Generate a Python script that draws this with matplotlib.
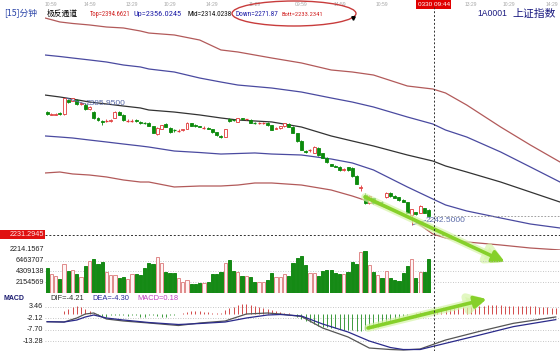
import matplotlib
matplotlib.use("Agg")
import matplotlib.pyplot as plt
from matplotlib import font_manager, transforms
from matplotlib.font_manager import FontProperties
from matplotlib.patches import Rectangle, Ellipse
from matplotlib.lines import Line2D

CJK = 'Noto Sans CJK SC'
plt.rcParams['font.family'] = ['Liberation Sans', CJK, 'DejaVu Sans']


def narrow_font():
    prefs = ['Liberation Sans Narrow', 'DejaVu Sans Condensed', 'Roboto Condensed',
             'Open Sans Condensed']
    fl = font_manager.fontManager.ttflist
    for p in prefs:
        for f in fl:
            if f.name == p and f.weight in (400, 'normal', 'regular') and f.style == 'normal':
                return FontProperties(fname=f.fname)
    for f in fl:
        if f.stretch in ('condensed', 'semi-condensed', 'extra-condensed') and f.style == 'normal' \
                and f.weight in (400, 'normal', 'regular'):
            return FontProperties(fname=f.fname)
    return FontProperties(family='Liberation Sans')


NARROW_FP = narrow_font()

# ---------------- data ----------------
opens = [2369.8, 2367.0, 2367.0, 2368.7, 2367.6, 2383.4, 2382.8, 2383.4, 2378.9, 2377.7,
         2373.2, 2369.8, 2363.1, 2360.2, 2359.7, 2359.7, 2363.6, 2369.8, 2366.5, 2359.7,
         2359.7, 2360.8, 2359.1, 2358.0, 2357.4, 2353.5, 2345.0, 2351.2, 2356.3, 2351.8,
         2349.5, 2348.4, 2349.0, 2351.2, 2356.9, 2355.7, 2354.0, 2351.8, 2351.8, 2350.7,
         2347.3, 2343.3, 2341.6, 2361.9, 2360.8, 2358.6, 2363.1, 2361.4, 2360.8, 2357.4,
         2356.9, 2356.9, 2357.4, 2355.2, 2350.7, 2351.8, 2353.5, 2356.3, 2352.9, 2346.1,
         2337.1, 2325.8, 2326.4, 2323.6, 2329.2, 2323.6, 2317.9, 2310.6, 2309.4, 2308.3,
         2304.4, 2307.8, 2306.6, 2297.6, 2284.0, 2276.1, 2267.1, 2272.8, 2267.1, 2268.8,
         2273.9, 2278.4, 2275.0, 2273.9, 2270.5, 2268.2, 2253.6, 2257.0, 2255.8, 2261.5,
         2259.2]
closes = [2367.6, 2368.1, 2368.1, 2367.6, 2385.1, 2381.1, 2385.7, 2378.9, 2380.0, 2373.2,
          2375.5, 2363.1, 2360.8, 2359.1, 2360.2, 2360.8, 2369.8, 2366.5, 2360.8, 2360.2,
          2360.2, 2359.7, 2356.9, 2357.4, 2354.6, 2346.1, 2351.8, 2355.2, 2352.9, 2347.3,
          2349.0, 2349.0, 2350.1, 2357.4, 2354.6, 2353.5, 2352.9, 2352.4, 2350.7, 2347.3,
          2343.9, 2341.1, 2350.7, 2359.7, 2360.2, 2363.1, 2361.4, 2361.9, 2357.4, 2356.9,
          2357.4, 2357.4, 2355.2, 2349.5, 2351.8, 2353.5, 2356.9, 2352.9, 2346.1, 2337.1,
          2327.0, 2324.7, 2327.0, 2330.3, 2321.3, 2317.9, 2313.4, 2309.4, 2308.3, 2304.4,
          2305.5, 2304.4, 2297.6, 2288.6, 2285.7, 2267.1, 2275.0, 2267.1, 2268.2, 2267.7,
          2278.4, 2275.0, 2272.8, 2270.5, 2268.2, 2255.8, 2260.3, 2254.7, 2263.7, 2255.8,
          2251.9]
highs = [2371.0, 2368.7, 2368.7, 2369.3, 2385.95, 2384.5, 2385.7, 2384.0, 2381.1, 2380.0,
         2376.6, 2371.0, 2364.2, 2360.8, 2361.4, 2361.9, 2371.0, 2371.0, 2367.6, 2361.4,
         2361.4, 2361.4, 2359.7, 2359.1, 2358.6, 2354.0, 2352.9, 2355.7, 2356.9, 2352.4,
         2350.7, 2350.1, 2350.7, 2358.0, 2357.4, 2356.3, 2354.6, 2353.5, 2352.4, 2351.2,
         2347.8, 2343.9, 2351.2, 2363.1, 2361.4, 2363.6, 2363.6, 2362.5, 2361.4, 2358.0,
         2358.0, 2358.0, 2358.0, 2355.7, 2352.4, 2354.0, 2357.4, 2356.9, 2353.5, 2346.7,
         2337.7, 2326.4, 2328.1, 2330.9, 2329.8, 2324.1, 2318.5, 2311.1, 2310.0, 2308.9,
         2306.1, 2308.3, 2307.2, 2298.2, 2287.4, 2278.4, 2275.6, 2273.3, 2269.4, 2269.9,
         2279.0, 2279.0, 2275.6, 2274.4, 2271.1, 2268.8, 2260.9, 2257.5, 2264.3, 2262.0,
         2259.8]
lows = [2366.5, 2366.5, 2366.5, 2367.0, 2367.0, 2380.0, 2382.3, 2378.3, 2377.7, 2372.1,
        2372.1, 2362.5, 2359.7, 2355.2, 2358.6, 2358.6, 2363.1, 2365.9, 2360.2, 2358.6,
        2358.6, 2359.1, 2356.3, 2356.3, 2354.0, 2345.6, 2344.4, 2350.7, 2352.4, 2346.7,
        2347.8, 2347.3, 2348.4, 2350.7, 2354.0, 2352.9, 2352.4, 2351.2, 2350.1, 2346.7,
        2343.3, 2340.5, 2341.1, 2359.1, 2359.7, 2358.0, 2360.8, 2360.8, 2356.9, 2356.3,
        2356.3, 2356.3, 2354.6, 2349.0, 2350.1, 2351.2, 2352.9, 2352.4, 2345.6, 2336.5,
        2326.4, 2324.1, 2324.7, 2323.0, 2320.7, 2317.4, 2312.8, 2308.9, 2307.8, 2303.8,
        2303.8, 2303.8, 2297.0, 2288.0, 2280.7, 2266.5, 2266.5, 2266.5, 2266.0, 2264.9,
        2273.3, 2274.4, 2272.2, 2269.9, 2267.7, 2255.3, 2242.5, 2254.1, 2255.3, 2255.3,
        2251.3]
volumes_m = [4.93, 3.73, 3.45, 2.79, 5.73, 4.39, 4.59, 3.73, 3.25, 5.45,
             6.38, 6.78, 5.85, 6.12, 4.25, 3.59, 3.59, 2.93, 3.19, 2.79,
             3.73, 3.73, 3.59, 4.93, 5.93, 5.73, 7.24, 5.93, 4.25, 3.93,
             4.05, 3.05, 2.25, 2.59, 1.74, 1.74, 2.05, 2.05, 2.13, 3.73,
             3.73, 4.25, 5.93, 6.58, 4.45, 4.25, 3.39, 3.39, 3.13, 2.25,
             2.25, 2.25, 2.59, 4.05, 3.25, 3.25, 3.79, 3.45, 5.93, 6.92,
             7.38, 5.59, 4.05, 3.93, 3.39, 4.39, 4.59, 4.59, 3.93, 3.79,
             3.73, 4.25, 6.12, 5.73, 8.24, 8.44, 5.59, 4.25, 3.59, 2.93,
             4.39, 3.05, 2.59, 2.45, 4.05, 5.39, 6.84, 3.05, 4.13, 4.13,
             6.84]

band_idx = [-0.5, 3, 6, 10, 14, 18, 22, 24, 30, 36, 41, 45, 49, 53, 60, 67, 72, 77, 85, 91,
            94, 99, 107, 114, 121]
band_top = [2476.0, 2471.5, 2469.8, 2468.1, 2465.8, 2464.7, 2461.3, 2459.0, 2456.8, 2451.1,
            2439.9, 2437.6, 2434.2, 2430.8, 2425.2, 2417.3, 2415.0, 2411.6, 2399.2, 2395.8,
            2391.3, 2377.7, 2352.9, 2332.6, 2313.4]
band_up = [2434.2, 2432.5, 2430.8, 2428.6, 2426.3, 2422.9, 2420.7, 2418.4, 2415.0, 2408.2,
           2403.7, 2400.3, 2398.6, 2396.9, 2392.4, 2385.7, 2381.1, 2375.5, 2364.2, 2356.3,
           2349.5, 2341.6, 2324.7, 2307.8, 2290.8]
band_mid = [2389.0, 2386.8, 2384.5, 2381.1, 2378.9, 2376.6, 2374.4, 2372.1, 2369.8, 2366.5,
            2363.1, 2360.8, 2359.7, 2358.6, 2352.9, 2342.8, 2337.1, 2331.5, 2321.3, 2314.5,
            2308.9, 2302.1, 2290.8, 2279.5, 2268.2]
band_down = [2342.8, 2341.6, 2340.5, 2338.2, 2336.0, 2333.7, 2331.5, 2330.3, 2325.8, 2324.1,
             2322.4, 2323.0, 2323.6, 2322.4, 2321.3, 2316.8, 2312.3, 2304.4, 2285.2, 2271.6,
             2264.9, 2258.1, 2250.2, 2243.4, 2238.9]
band_bott = [2301.0, 2302.1, 2299.9, 2298.7, 2296.5, 2293.1, 2290.8, 2290.8, 2285.2, 2286.3,
             2286.3, 2287.4, 2289.7, 2289.7, 2287.4, 2281.8, 2275.0, 2267.1, 2252.4, 2232.1,
             2227.6, 2223.1, 2219.7, 2216.3, 2214.1]

macd_idx = [0, 4, 7, 9, 11, 14, 18, 24, 31, 36, 42, 47, 52, 55, 60, 65, 71, 76, 81, 84,
            88, 94, 102, 110, 120]
dif = [-3.91, -4.06, -2.12, -0.18, 0.31, -2.60, -3.57, -4.54, -5.76, -4.54, -3.57, -0.18,
       0.31, -0.18, -1.39, -6.97, -11.33, -16.67, -17.40, -17.64, -17.15, -12.8, -8.6, -4.7, -1.6]
dea = [-3.91, -4.06, -3.09, -1.63, -0.66, -2.12, -3.09, -4.30, -5.27, -4.79, -4.06, -2.12,
       -0.66, -0.42, -1.15, -5.03, -8.91, -13.27, -16.43, -17.40, -17.40, -14.4, -10.4, -6.3, -2.9]
macd_hist = [0, 0, 0, 0, 1.5, 2.4, 3.4, 3.9, 3.4, 2.4, 1.5, 0.5,
             -0.5, -1.0, -1.5, -0.5, -0.8, -0.8, -0.8, -1.2, -0.5, -0.8, -1.5, -1.5, -0.8, -0.8,
             -1.0, -1.5, -1.5, -0.8, -0.5, -0.3,
             0.3, 0.8, 1.2, 1.3, 1.3, 1.0, 0.6, 0.3, 0.3, 0.5,
             1.9, 2.8, 3.4, 4.1, 4.6, 4.6, 4.2, 3.7, 3.2, 2.8, 2.4, 1.8, 1.3, 0.8, 0.4, 0.1, -0.3,
             -1.5, -2.6, -3.5, -4.2, -5.0, -5.8, -6.3, -6.6, -6.9, -7.2, -7.4, -7.7, -7.9, -8.1,
             -8.2, -8.2, -8.0, -7.6, -7.0, -6.3, -5.5, -4.7, -3.7, -2.8,
             -2.0, -1.2, -0.6, -0.2, 0.3, 0.6,
             0.9, 1.1, 1.4, 1.6, 1.9, 2.2, 2.5, 2.8, 3.0, 3.2, 3.4, 3.6, 3.8, 3.9, 3.9, 4.0,
             4.0, 4.0, 4.0, 3.9, 3.9, 3.9, 3.8, 3.8, 3.7, 3.6, 3.5, 3.3, 3.2, 3.0, 2.8, 2.7]

price_levels = [2231.2945, 2214.1567]
vol_levels = [6463707, 4309138, 2154569]
macd_levels = [3.46, -2.12, -7.70, -13.28]
time_pos = [1, 10, 20, 29, 39, 49, 60, 69, 79, 100, 109, 119]
time_labels = ["10:59", "14:59", "13:29", "10:29", "14:29", "11:29", "09:59", "14:59",
               "10:59", "13:29", "10:29", "14:29"]
header_items = ["Top=2394.6621", "Up=2356.0245", "Mid=2314.0238", "Down=2271.87", "Bott=2233.2341"]

# ---------------- layout ----------------
W, H = 560, 351
fig = plt.figure(figsize=(W / 100, H / 100), dpi=100)
fig.patch.set_facecolor('white')
renderer = fig.canvas.get_renderer()


def fx(px):
    return px / W


def fy(py):
    return 1 - py / H


def fit_text(t, target_px, max_size=6.5):
    """shrink a text so that it is at most target_px wide"""
    bb = t.get_window_extent(renderer=renderer)
    if bb.width > target_px:
        t.set_fontsize(min(max_size, t.get_fontsize() * target_px / bb.width))


X0, X1 = 45, 560
XLIM = (-0.5, 121.0)
ax = fig.add_axes([fx(X0), fy(250), (X1 - X0) / W, 240 / H])
axv = fig.add_axes([fx(X0), fy(293), (X1 - X0) / W, 43 / H])
axm = fig.add_axes([fx(X0), 0, (X1 - X0) / W, 48 / H])
for a in (ax, axv, axm):
    a.set_xlim(*XLIM)
    a.axis('off')
ax.set_ylim(2214.05, 2485.0)
axv.set_ylim(0, 8.58e6)
axm.set_ylim(-18.12, 5.16)

UP = '#e03838'
DN = '#0b8a0b'
dot_light = dict(color='#b4b4b4', lw=0.6, ls=(0, (1, 2)))

# grid / level lines
ax.axhline(price_levels[0], color='#303030', lw=0.7, ls=(0, (2, 2)), zorder=1)
ax.axhline(price_levels[1], **dot_light, zorder=1)
for v in vol_levels:
    axv.axhline(v, **dot_light, zorder=1)
for v in macd_levels:
    axm.axhline(v, **dot_light, zorder=1)

# bands
ax.plot(band_idx, band_top, color='#b25a5a', lw=0.9, zorder=2)
ax.plot(band_idx, band_up, color='#4a4aa0', lw=0.9, zorder=2)
ax.plot(band_idx, band_mid, color='#333333', lw=0.9, zorder=2)
ax.plot(band_idx, band_down, color='#4a4aa0', lw=0.9, zorder=2)
ax.plot(band_idx, band_bott, color='#b25a5a', lw=0.9, zorder=2)

# candles + volume
for i, (o, c, h, l) in enumerate(zip(opens, closes, highs, lows)):
    up = c >= o
    col = UP if up else DN
    ax.vlines(i, l, h, color=col, lw=0.6, zorder=3)
    bot, ht = min(o, c), abs(c - o)
    if ht < 0.9:
        ax.hlines((o + c) / 2, i - 0.35, i + 0.35, color=col, lw=0.9, zorder=4)
    else:
        ax.add_patch(Rectangle((i - 0.35, bot), 0.7, ht, facecolor='white' if up else col,
                               edgecolor=col, lw=0.6, zorder=4))
    vcol = '#e08a8a' if up else '#158a15'
    axv.add_patch(Rectangle((i - 0.38, 0), 0.76, volumes_m[i] * 1e6,
                            facecolor='#fff4f4' if up else vcol, edgecolor=vcol, lw=0.7, zorder=3))
axv.axhline(0, color='#a0a0a0', lw=0.6, zorder=2)

# high / low labels
hi_i = max(range(len(highs)), key=lambda k: highs[k])
lo_i = min(range(len(lows)), key=lambda k: lows[k])
ax.plot([hi_i + 0.6, hi_i + 5.0], [highs[hi_i] - 0.5, highs[hi_i] - 7.0], color='#5a6aa8', lw=0.6, zorder=5)
ax.text(hi_i + 5.1, highs[hi_i] - 7.0, f"{highs[hi_i]:.4f}", color='#5a6aa8', fontsize=6,
        va='center', ha='left', zorder=6)
ax.plot([lo_i + 0.3, lo_i + 3.3], [lows[lo_i], lows[lo_i] + 5.0], color='#5a6aa8', lw=0.6, zorder=5)
ax.text(lo_i + 3.4, lows[lo_i] + 5.2, f"{lows[lo_i]:.4f}", color='#5a6aa8', fontsize=6,
        va='center', ha='left', zorder=6)

# MACD
for i, v in enumerate(macd_hist):
    if v == 0:
        continue
    axm.vlines(i, 0, v, color='#d24a4a' if v > 0 else '#3c9a3c', lw=0.7, zorder=2)
axm.plot(macd_idx, dif, color='#555555', lw=0.9, zorder=3)
axm.plot(macd_idx, dea, color='#2a2a8a', lw=0.9, zorder=3)

# crosshair
xc = len(closes) + 0.2
vline = Line2D([xc, xc], [0, fy(7)], transform=transforms.blended_transform_factory(ax.transData, fig.transFigure),
               color='#303030', lw=0.7, ls=(0, (2, 2)), zorder=10)
fig.add_artist(vline)
ax.hlines(closes[-1], xc, XLIM[1], color='#909090', lw=0.6, ls=(0, (2, 2)), zorder=2)

# left labels
lab = dict(fontsize=5.2, ha='right', va='center', color='#202020')
tp = transforms.blended_transform_factory(fig.transFigure, ax.transData)
ax.add_patch(Rectangle((0, price_levels[0] - 4.8), fx(45), 9.6, transform=tp, facecolor='#e01010',
                       edgecolor='none', clip_on=False, zorder=8))
ax.text(fx(44), price_levels[0], f"{price_levels[0]:.4f}", transform=tp, clip_on=False,
        **{**lab, 'color': '#ffe6e6'}, zorder=9)
ax.text(fx(44), price_levels[1], f"{price_levels[1]:.4f}", transform=tp, **lab)
tv = transforms.blended_transform_factory(fig.transFigure, axv.transData)
for v in vol_levels:
    axv.text(fx(44), v, f"{v}", transform=tv, **lab)
tm = transforms.blended_transform_factory(fig.transFigure, axm.transData)
for v in macd_levels:
    axm.text(fx(43), v, f"{v:.2f}", transform=tm, **lab)

# time labels on top
tt = transforms.blended_transform_factory(ax.transData, fig.transFigure)
for p, s in zip(time_pos, time_labels):
    ax.text(p, fy(4), s, transform=tt, fontsize=3.6, color='#a8a8a8', ha='center', va='center',
            clip_on=False)
ax.text(xc, fy(4.5), "0330 09:44", transform=tt, fontsize=4.6, color='white', ha='center',
        va='center', clip_on=False, zorder=12,
        bbox=dict(boxstyle='square,pad=0.25', fc='#e00000', ec='none'))

# header texts
fig.text(fx(4), fy(14), "[15]分钟", fontsize=6.3, color='#2a44a8', va='center', family=[CJK])
fig.text(fx(47), fy(14), "极反通道", fontsize=5.6, color='black', va='center', family=[CJK])
hdr_x = [90, 134, 187, 235, 281]
hdr_c = ['#d02020', '#2020a8', '#101010', '#2020a8', '#d02020']
for k, (px, s, c) in enumerate(zip(hdr_x, header_items, hdr_c)):
    t = fig.text(fx(px), fy(14), s, fontproperties=NARROW_FP, fontsize=6.0, color=c, va='center')
    nxt = hdr_x[k + 1] if k + 1 < len(hdr_x) else 325
    fit_text(t, nxt - px - 3)
fig.text(fx(477), fy(14), "1A0001", fontsize=6.2, color='#1a1a80', va='center')
fig.text(fx(512), fy(14), "上证指数", fontsize=7.8, color='#1a1a80', va='center', family=[CJK])

# MACD header
fig.text(fx(3), fy(298), "MACD", fontsize=5.0, color='#1a1a70', va='center', weight='bold')
fig.text(fx(50), fy(298), "DIF=-4.21", fontsize=5.4, color='#303030', va='center')
fig.text(fx(92), fy(298), "DEA=-4.30", fontsize=5.4, color='#2a2a9a', va='center')
fig.text(fx(137), fy(298), "MACD=0.18", fontsize=5.4, color='#c040c0', va='center')

# red ellipse annotation
fig.add_artist(Ellipse((fx(294), fy(13.5)), 124 / W, 25 / H, transform=fig.transFigure,
                       fill=False, edgecolor='#c83c3c', lw=1.0, zorder=11))
fig.add_artist(Line2D([fx(353)], [fy(18)], marker='v', ms=2.5, color='black',
                      transform=fig.transFigure, zorder=12))

# green arrows
for a, (s, e) in ((ax, ((75, 2273.9), (108.0, 2200.5))), (axm, ((75.7, -6.97), (103.7, 7.1)))):
    a.annotate('', xy=e, xytext=s, annotation_clip=False, zorder=15,
               arrowprops=dict(arrowstyle='-|>,head_length=0.9,head_width=0.5', color='#d6f5a8',
                               lw=5.5, alpha=0.7, shrinkA=0, shrinkB=0))
    a.annotate('', xy=e, xytext=s, annotation_clip=False, zorder=16,
               arrowprops=dict(arrowstyle='-|>,head_length=0.7,head_width=0.35', color='#86d02a',
                               lw=2.6, shrinkA=0, shrinkB=0))

fig.savefig('out.png', dpi=100, facecolor='white')
